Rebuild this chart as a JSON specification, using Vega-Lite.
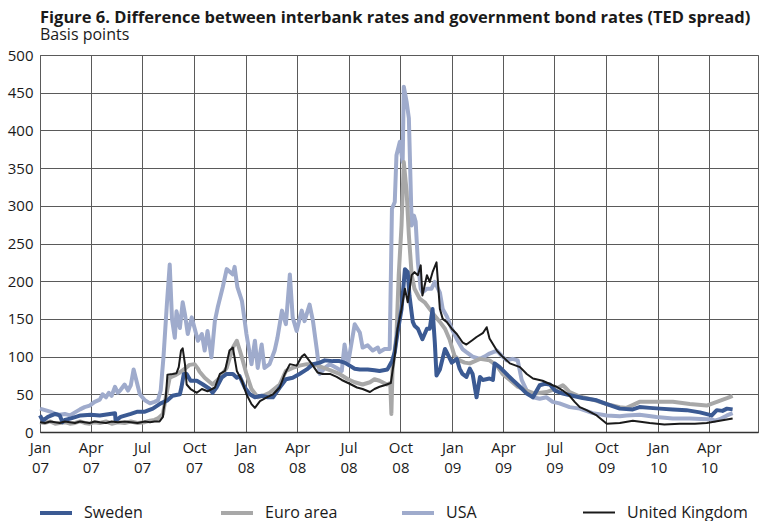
{
  "$schema": "https://vega.github.io/schema/vega-lite/v6.json",
  "width": 718,
  "height": 377,
  "autosize": {"type": "none"},
  "padding": {"left": 40, "top": 55, "right": 2, "bottom": 89},
  "background": "white",
  "config": {
    "font": "Open Sans",
    "view": {"stroke": "#5a5a5a", "strokeWidth": 1},
    "legend": {
      "orient": "none",
      "legendX": -2,
      "legendY": 440,
      "direction": "horizontal",
      "columns": 4,
      "gridAlign": "all",
      "columnPadding": 8,
      "padding": 0,
      "symbolType": "stroke",
      "symbolSize": 1024,
      "labelFontSize": 16,
      "labelOffset": 10,
      "labelColor": "#1a1a1a",
      "labelFont": "Open Sans"
    }
  },
  "title": {
    "text": "Figure 6. Difference between interbank rates and government bond rates (TED spread)",
    "subtitle": "Basis points",
    "anchor": "start",
    "frame": "group",
    "offset": 5,
    "font": "Open Sans",
    "fontSize": 16.5,
    "fontWeight": "bold",
    "color": "#1a1a1a",
    "subtitleFont": "Open Sans",
    "subtitleFontSize": 16,
    "subtitleColor": "#1a1a1a",
    "subtitlePadding": 1
  },
  "datasets": {
    "ted": [
      {"date": "2007-01-01", "series": "USA", "bp": 31},
      {"date": "2007-01-10", "series": "USA", "bp": 29},
      {"date": "2007-01-19", "series": "USA", "bp": 27},
      {"date": "2007-01-28", "series": "USA", "bp": 24},
      {"date": "2007-02-05", "series": "USA", "bp": 23},
      {"date": "2007-02-14", "series": "USA", "bp": 24},
      {"date": "2007-02-23", "series": "USA", "bp": 22},
      {"date": "2007-03-04", "series": "USA", "bp": 26},
      {"date": "2007-03-13", "series": "USA", "bp": 30},
      {"date": "2007-03-21", "series": "USA", "bp": 33},
      {"date": "2007-03-30", "series": "USA", "bp": 35},
      {"date": "2007-04-08", "series": "USA", "bp": 40},
      {"date": "2007-04-17", "series": "USA", "bp": 43},
      {"date": "2007-04-22", "series": "USA", "bp": 50},
      {"date": "2007-04-28", "series": "USA", "bp": 46},
      {"date": "2007-05-03", "series": "USA", "bp": 52},
      {"date": "2007-05-08", "series": "USA", "bp": 48},
      {"date": "2007-05-14", "series": "USA", "bp": 60},
      {"date": "2007-05-19", "series": "USA", "bp": 52},
      {"date": "2007-05-24", "series": "USA", "bp": 56},
      {"date": "2007-05-31", "series": "USA", "bp": 63},
      {"date": "2007-06-06", "series": "USA", "bp": 55},
      {"date": "2007-06-11", "series": "USA", "bp": 62},
      {"date": "2007-06-16", "series": "USA", "bp": 83},
      {"date": "2007-06-22", "series": "USA", "bp": 65},
      {"date": "2007-06-27", "series": "USA", "bp": 50},
      {"date": "2007-07-06", "series": "USA", "bp": 42},
      {"date": "2007-07-15", "series": "USA", "bp": 38},
      {"date": "2007-07-23", "series": "USA", "bp": 40},
      {"date": "2007-07-29", "series": "USA", "bp": 42},
      {"date": "2007-08-03", "series": "USA", "bp": 55},
      {"date": "2007-08-08", "series": "USA", "bp": 100},
      {"date": "2007-08-14", "series": "USA", "bp": 170},
      {"date": "2007-08-19", "series": "USA", "bp": 222},
      {"date": "2007-08-23", "series": "USA", "bp": 150},
      {"date": "2007-08-28", "series": "USA", "bp": 125},
      {"date": "2007-08-31", "series": "USA", "bp": 160},
      {"date": "2007-09-06", "series": "USA", "bp": 138},
      {"date": "2007-09-11", "series": "USA", "bp": 172},
      {"date": "2007-09-15", "series": "USA", "bp": 156},
      {"date": "2007-09-20", "series": "USA", "bp": 130},
      {"date": "2007-09-27", "series": "USA", "bp": 152},
      {"date": "2007-10-02", "series": "USA", "bp": 138},
      {"date": "2007-10-08", "series": "USA", "bp": 121},
      {"date": "2007-10-15", "series": "USA", "bp": 130},
      {"date": "2007-10-20", "series": "USA", "bp": 108},
      {"date": "2007-10-25", "series": "USA", "bp": 134},
      {"date": "2007-11-01", "series": "USA", "bp": 99},
      {"date": "2007-11-07", "series": "USA", "bp": 147},
      {"date": "2007-11-12", "series": "USA", "bp": 165},
      {"date": "2007-11-21", "series": "USA", "bp": 192},
      {"date": "2007-11-28", "series": "USA", "bp": 216},
      {"date": "2007-12-09", "series": "USA", "bp": 209},
      {"date": "2007-12-12", "series": "USA", "bp": 219},
      {"date": "2007-12-17", "series": "USA", "bp": 192},
      {"date": "2007-12-25", "series": "USA", "bp": 174},
      {"date": "2007-12-30", "series": "USA", "bp": 147},
      {"date": "2008-01-02", "series": "USA", "bp": 130},
      {"date": "2008-01-11", "series": "USA", "bp": 90},
      {"date": "2008-01-17", "series": "USA", "bp": 121},
      {"date": "2008-01-22", "series": "USA", "bp": 85},
      {"date": "2008-01-29", "series": "USA", "bp": 116},
      {"date": "2008-02-03", "series": "USA", "bp": 85},
      {"date": "2008-02-12", "series": "USA", "bp": 90},
      {"date": "2008-02-21", "series": "USA", "bp": 108},
      {"date": "2008-02-26", "series": "USA", "bp": 125},
      {"date": "2008-03-05", "series": "USA", "bp": 161},
      {"date": "2008-03-12", "series": "USA", "bp": 143},
      {"date": "2008-03-19", "series": "USA", "bp": 209},
      {"date": "2008-03-24", "series": "USA", "bp": 152},
      {"date": "2008-03-31", "series": "USA", "bp": 134},
      {"date": "2008-04-09", "series": "USA", "bp": 161},
      {"date": "2008-04-14", "series": "USA", "bp": 147},
      {"date": "2008-04-23", "series": "USA", "bp": 169},
      {"date": "2008-04-29", "series": "USA", "bp": 147},
      {"date": "2008-05-06", "series": "USA", "bp": 108},
      {"date": "2008-05-11", "series": "USA", "bp": 77},
      {"date": "2008-05-20", "series": "USA", "bp": 85},
      {"date": "2008-05-29", "series": "USA", "bp": 90},
      {"date": "2008-06-10", "series": "USA", "bp": 85},
      {"date": "2008-06-19", "series": "USA", "bp": 81},
      {"date": "2008-06-24", "series": "USA", "bp": 116},
      {"date": "2008-06-30", "series": "USA", "bp": 90},
      {"date": "2008-07-07", "series": "USA", "bp": 121},
      {"date": "2008-07-12", "series": "USA", "bp": 143},
      {"date": "2008-07-21", "series": "USA", "bp": 132},
      {"date": "2008-07-26", "series": "USA", "bp": 112},
      {"date": "2008-08-04", "series": "USA", "bp": 115},
      {"date": "2008-08-13", "series": "USA", "bp": 108},
      {"date": "2008-08-22", "series": "USA", "bp": 112},
      {"date": "2008-08-25", "series": "USA", "bp": 106},
      {"date": "2008-09-03", "series": "USA", "bp": 110},
      {"date": "2008-09-12", "series": "USA", "bp": 110},
      {"date": "2008-09-16", "series": "USA", "bp": 296},
      {"date": "2008-09-21", "series": "USA", "bp": 305},
      {"date": "2008-09-24", "series": "USA", "bp": 367},
      {"date": "2008-09-30", "series": "USA", "bp": 385},
      {"date": "2008-10-05", "series": "USA", "bp": 358},
      {"date": "2008-10-07", "series": "USA", "bp": 458},
      {"date": "2008-10-12", "series": "USA", "bp": 438},
      {"date": "2008-10-16", "series": "USA", "bp": 416},
      {"date": "2008-10-21", "series": "USA", "bp": 274},
      {"date": "2008-10-25", "series": "USA", "bp": 287},
      {"date": "2008-10-28", "series": "USA", "bp": 279},
      {"date": "2008-11-01", "series": "USA", "bp": 225},
      {"date": "2008-11-06", "series": "USA", "bp": 190},
      {"date": "2008-11-09", "series": "USA", "bp": 185},
      {"date": "2008-11-17", "series": "USA", "bp": 190},
      {"date": "2008-11-25", "series": "USA", "bp": 190},
      {"date": "2008-12-01", "series": "USA", "bp": 199},
      {"date": "2008-12-10", "series": "USA", "bp": 185},
      {"date": "2008-12-15", "series": "USA", "bp": 163},
      {"date": "2008-12-22", "series": "USA", "bp": 154},
      {"date": "2008-12-31", "series": "USA", "bp": 137},
      {"date": "2009-01-09", "series": "USA", "bp": 123},
      {"date": "2009-01-19", "series": "USA", "bp": 110},
      {"date": "2009-01-26", "series": "USA", "bp": 106},
      {"date": "2009-02-06", "series": "USA", "bp": 100},
      {"date": "2009-02-19", "series": "USA", "bp": 97},
      {"date": "2009-02-27", "series": "USA", "bp": 100},
      {"date": "2009-03-08", "series": "USA", "bp": 104},
      {"date": "2009-03-21", "series": "USA", "bp": 108},
      {"date": "2009-03-31", "series": "USA", "bp": 100},
      {"date": "2009-04-07", "series": "USA", "bp": 95},
      {"date": "2009-04-18", "series": "USA", "bp": 97},
      {"date": "2009-04-27", "series": "USA", "bp": 95},
      {"date": "2009-05-04", "series": "USA", "bp": 69},
      {"date": "2009-05-13", "series": "USA", "bp": 55},
      {"date": "2009-05-24", "series": "USA", "bp": 46},
      {"date": "2009-06-05", "series": "USA", "bp": 44},
      {"date": "2009-06-17", "series": "USA", "bp": 46},
      {"date": "2009-06-28", "series": "USA", "bp": 40},
      {"date": "2009-07-10", "series": "USA", "bp": 38},
      {"date": "2009-07-28", "series": "USA", "bp": 33},
      {"date": "2009-08-15", "series": "USA", "bp": 31},
      {"date": "2009-09-07", "series": "USA", "bp": 25},
      {"date": "2009-10-02", "series": "USA", "bp": 22},
      {"date": "2009-10-25", "series": "USA", "bp": 21},
      {"date": "2009-11-06", "series": "USA", "bp": 22},
      {"date": "2009-11-29", "series": "USA", "bp": 23},
      {"date": "2009-12-29", "series": "USA", "bp": 20},
      {"date": "2010-01-27", "series": "USA", "bp": 18},
      {"date": "2010-02-26", "series": "USA", "bp": 18},
      {"date": "2010-03-28", "series": "USA", "bp": 17},
      {"date": "2010-04-06", "series": "USA", "bp": 17},
      {"date": "2010-04-11", "series": "USA", "bp": 15},
      {"date": "2010-04-20", "series": "USA", "bp": 17},
      {"date": "2010-05-03", "series": "USA", "bp": 22},
      {"date": "2010-05-13", "series": "USA", "bp": 25},

      {"date": "2007-01-01", "series": "Euro area", "bp": 13},
      {"date": "2007-01-10", "series": "Euro area", "bp": 12},
      {"date": "2007-01-19", "series": "Euro area", "bp": 14},
      {"date": "2007-01-28", "series": "Euro area", "bp": 11},
      {"date": "2007-02-05", "series": "Euro area", "bp": 12},
      {"date": "2007-02-14", "series": "Euro area", "bp": 13},
      {"date": "2007-02-23", "series": "Euro area", "bp": 11},
      {"date": "2007-03-04", "series": "Euro area", "bp": 12},
      {"date": "2007-03-13", "series": "Euro area", "bp": 14},
      {"date": "2007-03-21", "series": "Euro area", "bp": 12},
      {"date": "2007-03-30", "series": "Euro area", "bp": 11},
      {"date": "2007-04-08", "series": "Euro area", "bp": 13},
      {"date": "2007-04-17", "series": "Euro area", "bp": 12},
      {"date": "2007-04-28", "series": "Euro area", "bp": 14},
      {"date": "2007-05-08", "series": "Euro area", "bp": 11},
      {"date": "2007-05-19", "series": "Euro area", "bp": 13},
      {"date": "2007-05-31", "series": "Euro area", "bp": 12},
      {"date": "2007-06-11", "series": "Euro area", "bp": 14},
      {"date": "2007-06-23", "series": "Euro area", "bp": 12},
      {"date": "2007-07-06", "series": "Euro area", "bp": 13},
      {"date": "2007-07-15", "series": "Euro area", "bp": 15},
      {"date": "2007-07-23", "series": "Euro area", "bp": 16},
      {"date": "2007-07-29", "series": "Euro area", "bp": 18},
      {"date": "2007-08-07", "series": "Euro area", "bp": 24},
      {"date": "2007-08-12", "series": "Euro area", "bp": 46},
      {"date": "2007-08-19", "series": "Euro area", "bp": 72},
      {"date": "2007-08-28", "series": "Euro area", "bp": 75},
      {"date": "2007-09-06", "series": "Euro area", "bp": 79},
      {"date": "2007-09-15", "series": "Euro area", "bp": 84},
      {"date": "2007-09-23", "series": "Euro area", "bp": 89},
      {"date": "2007-10-02", "series": "Euro area", "bp": 90},
      {"date": "2007-10-08", "series": "Euro area", "bp": 84},
      {"date": "2007-10-11", "series": "Euro area", "bp": 80},
      {"date": "2007-10-20", "series": "Euro area", "bp": 72},
      {"date": "2007-11-03", "series": "Euro area", "bp": 63},
      {"date": "2007-11-16", "series": "Euro area", "bp": 72},
      {"date": "2007-11-28", "series": "Euro area", "bp": 85},
      {"date": "2007-12-09", "series": "Euro area", "bp": 112},
      {"date": "2007-12-16", "series": "Euro area", "bp": 121},
      {"date": "2007-12-25", "series": "Euro area", "bp": 99},
      {"date": "2008-01-02", "series": "Euro area", "bp": 77},
      {"date": "2008-01-11", "series": "Euro area", "bp": 57},
      {"date": "2008-01-22", "series": "Euro area", "bp": 46},
      {"date": "2008-01-31", "series": "Euro area", "bp": 48},
      {"date": "2008-02-12", "series": "Euro area", "bp": 52},
      {"date": "2008-03-01", "series": "Euro area", "bp": 63},
      {"date": "2008-03-12", "series": "Euro area", "bp": 81},
      {"date": "2008-03-24", "series": "Euro area", "bp": 85},
      {"date": "2008-04-05", "series": "Euro area", "bp": 88},
      {"date": "2008-04-18", "series": "Euro area", "bp": 90},
      {"date": "2008-04-29", "series": "Euro area", "bp": 90},
      {"date": "2008-05-11", "series": "Euro area", "bp": 87},
      {"date": "2008-05-29", "series": "Euro area", "bp": 82},
      {"date": "2008-06-15", "series": "Euro area", "bp": 77},
      {"date": "2008-06-30", "series": "Euro area", "bp": 70},
      {"date": "2008-07-12", "series": "Euro area", "bp": 66},
      {"date": "2008-07-26", "series": "Euro area", "bp": 63},
      {"date": "2008-08-08", "series": "Euro area", "bp": 66},
      {"date": "2008-08-16", "series": "Euro area", "bp": 70},
      {"date": "2008-08-25", "series": "Euro area", "bp": 68},
      {"date": "2008-09-07", "series": "Euro area", "bp": 63},
      {"date": "2008-09-13", "series": "Euro area", "bp": 65},
      {"date": "2008-09-15", "series": "Euro area", "bp": 24},
      {"date": "2008-09-17", "series": "Euro area", "bp": 83},
      {"date": "2008-09-24", "series": "Euro area", "bp": 128},
      {"date": "2008-09-28", "series": "Euro area", "bp": 208},
      {"date": "2008-10-03", "series": "Euro area", "bp": 274},
      {"date": "2008-10-07", "series": "Euro area", "bp": 358},
      {"date": "2008-10-12", "series": "Euro area", "bp": 319},
      {"date": "2008-10-16", "series": "Euro area", "bp": 261},
      {"date": "2008-10-21", "series": "Euro area", "bp": 208},
      {"date": "2008-10-26", "series": "Euro area", "bp": 190},
      {"date": "2008-11-04", "series": "Euro area", "bp": 177},
      {"date": "2008-11-13", "series": "Euro area", "bp": 172},
      {"date": "2008-11-22", "series": "Euro area", "bp": 163},
      {"date": "2008-12-01", "series": "Euro area", "bp": 154},
      {"date": "2008-12-10", "series": "Euro area", "bp": 146},
      {"date": "2008-12-19", "series": "Euro area", "bp": 137},
      {"date": "2008-12-27", "series": "Euro area", "bp": 123},
      {"date": "2009-01-05", "series": "Euro area", "bp": 101},
      {"date": "2009-01-14", "series": "Euro area", "bp": 95},
      {"date": "2009-01-23", "series": "Euro area", "bp": 92},
      {"date": "2009-02-01", "series": "Euro area", "bp": 91},
      {"date": "2009-02-19", "series": "Euro area", "bp": 97},
      {"date": "2009-03-08", "series": "Euro area", "bp": 95},
      {"date": "2009-03-21", "series": "Euro area", "bp": 88},
      {"date": "2009-03-31", "series": "Euro area", "bp": 77},
      {"date": "2009-04-13", "series": "Euro area", "bp": 69},
      {"date": "2009-04-27", "series": "Euro area", "bp": 60},
      {"date": "2009-05-13", "series": "Euro area", "bp": 55},
      {"date": "2009-05-27", "series": "Euro area", "bp": 51},
      {"date": "2009-06-17", "series": "Euro area", "bp": 53},
      {"date": "2009-07-05", "series": "Euro area", "bp": 58},
      {"date": "2009-07-16", "series": "Euro area", "bp": 62},
      {"date": "2009-07-19", "series": "Euro area", "bp": 60},
      {"date": "2009-07-28", "series": "Euro area", "bp": 53},
      {"date": "2009-08-15", "series": "Euro area", "bp": 47},
      {"date": "2009-09-07", "series": "Euro area", "bp": 43},
      {"date": "2009-10-02", "series": "Euro area", "bp": 37},
      {"date": "2009-10-25", "series": "Euro area", "bp": 33},
      {"date": "2009-11-06", "series": "Euro area", "bp": 32},
      {"date": "2009-11-29", "series": "Euro area", "bp": 40},
      {"date": "2009-12-29", "series": "Euro area", "bp": 40},
      {"date": "2010-01-27", "series": "Euro area", "bp": 40},
      {"date": "2010-02-26", "series": "Euro area", "bp": 37},
      {"date": "2010-03-28", "series": "Euro area", "bp": 35},
      {"date": "2010-04-15", "series": "Euro area", "bp": 40},
      {"date": "2010-05-03", "series": "Euro area", "bp": 45},
      {"date": "2010-05-13", "series": "Euro area", "bp": 48},

      {"date": "2007-01-01", "series": "Sweden", "bp": 22},
      {"date": "2007-01-06", "series": "Sweden", "bp": 15},
      {"date": "2007-01-15", "series": "Sweden", "bp": 20},
      {"date": "2007-01-28", "series": "Sweden", "bp": 24},
      {"date": "2007-02-05", "series": "Sweden", "bp": 22},
      {"date": "2007-02-10", "series": "Sweden", "bp": 13},
      {"date": "2007-02-14", "series": "Sweden", "bp": 16},
      {"date": "2007-02-25", "series": "Sweden", "bp": 18},
      {"date": "2007-03-14", "series": "Sweden", "bp": 22},
      {"date": "2007-04-01", "series": "Sweden", "bp": 23},
      {"date": "2007-04-17", "series": "Sweden", "bp": 22},
      {"date": "2007-05-05", "series": "Sweden", "bp": 24},
      {"date": "2007-05-14", "series": "Sweden", "bp": 25},
      {"date": "2007-05-15", "series": "Sweden", "bp": 15},
      {"date": "2007-05-24", "series": "Sweden", "bp": 20},
      {"date": "2007-06-11", "series": "Sweden", "bp": 24},
      {"date": "2007-06-23", "series": "Sweden", "bp": 27},
      {"date": "2007-07-06", "series": "Sweden", "bp": 27},
      {"date": "2007-07-20", "series": "Sweden", "bp": 31},
      {"date": "2007-08-03", "series": "Sweden", "bp": 38},
      {"date": "2007-08-15", "series": "Sweden", "bp": 42},
      {"date": "2007-08-24", "series": "Sweden", "bp": 48},
      {"date": "2007-09-06", "series": "Sweden", "bp": 50},
      {"date": "2007-09-09", "series": "Sweden", "bp": 60},
      {"date": "2007-09-13", "series": "Sweden", "bp": 77},
      {"date": "2007-09-18", "series": "Sweden", "bp": 77},
      {"date": "2007-09-25", "series": "Sweden", "bp": 68},
      {"date": "2007-10-06", "series": "Sweden", "bp": 68},
      {"date": "2007-10-17", "series": "Sweden", "bp": 63},
      {"date": "2007-10-29", "series": "Sweden", "bp": 57},
      {"date": "2007-11-03", "series": "Sweden", "bp": 52},
      {"date": "2007-11-10", "series": "Sweden", "bp": 59},
      {"date": "2007-11-19", "series": "Sweden", "bp": 72},
      {"date": "2007-11-28", "series": "Sweden", "bp": 77},
      {"date": "2007-12-09", "series": "Sweden", "bp": 77},
      {"date": "2007-12-16", "series": "Sweden", "bp": 72},
      {"date": "2007-12-21", "series": "Sweden", "bp": 74},
      {"date": "2007-12-30", "series": "Sweden", "bp": 59},
      {"date": "2008-01-08", "series": "Sweden", "bp": 50},
      {"date": "2008-01-17", "series": "Sweden", "bp": 46},
      {"date": "2008-01-29", "series": "Sweden", "bp": 48},
      {"date": "2008-02-09", "series": "Sweden", "bp": 46},
      {"date": "2008-02-18", "series": "Sweden", "bp": 46},
      {"date": "2008-03-01", "series": "Sweden", "bp": 59},
      {"date": "2008-03-12", "series": "Sweden", "bp": 70},
      {"date": "2008-03-24", "series": "Sweden", "bp": 72},
      {"date": "2008-04-05", "series": "Sweden", "bp": 77},
      {"date": "2008-04-18", "series": "Sweden", "bp": 83},
      {"date": "2008-04-29", "series": "Sweden", "bp": 90},
      {"date": "2008-05-11", "series": "Sweden", "bp": 92},
      {"date": "2008-05-20", "series": "Sweden", "bp": 95},
      {"date": "2008-06-03", "series": "Sweden", "bp": 94},
      {"date": "2008-06-15", "series": "Sweden", "bp": 94},
      {"date": "2008-06-24", "series": "Sweden", "bp": 92},
      {"date": "2008-07-03", "series": "Sweden", "bp": 88},
      {"date": "2008-07-12", "series": "Sweden", "bp": 84},
      {"date": "2008-07-21", "series": "Sweden", "bp": 83},
      {"date": "2008-08-04", "series": "Sweden", "bp": 83},
      {"date": "2008-08-16", "series": "Sweden", "bp": 82},
      {"date": "2008-08-25", "series": "Sweden", "bp": 81},
      {"date": "2008-09-08", "series": "Sweden", "bp": 83},
      {"date": "2008-09-16", "series": "Sweden", "bp": 94},
      {"date": "2008-09-21", "series": "Sweden", "bp": 106},
      {"date": "2008-09-26", "series": "Sweden", "bp": 132},
      {"date": "2008-10-03", "series": "Sweden", "bp": 163},
      {"date": "2008-10-09", "series": "Sweden", "bp": 216},
      {"date": "2008-10-14", "series": "Sweden", "bp": 212},
      {"date": "2008-10-17", "series": "Sweden", "bp": 181},
      {"date": "2008-10-23", "series": "Sweden", "bp": 146},
      {"date": "2008-10-26", "series": "Sweden", "bp": 141},
      {"date": "2008-11-01", "series": "Sweden", "bp": 137},
      {"date": "2008-11-09", "series": "Sweden", "bp": 123},
      {"date": "2008-11-17", "series": "Sweden", "bp": 137},
      {"date": "2008-11-22", "series": "Sweden", "bp": 137},
      {"date": "2008-11-27", "series": "Sweden", "bp": 163},
      {"date": "2008-12-01", "series": "Sweden", "bp": 119},
      {"date": "2008-12-04", "series": "Sweden", "bp": 75},
      {"date": "2008-12-10", "series": "Sweden", "bp": 83},
      {"date": "2008-12-19", "series": "Sweden", "bp": 110},
      {"date": "2008-12-22", "series": "Sweden", "bp": 106},
      {"date": "2008-12-31", "series": "Sweden", "bp": 92},
      {"date": "2009-01-09", "series": "Sweden", "bp": 97},
      {"date": "2009-01-14", "series": "Sweden", "bp": 84},
      {"date": "2009-01-19", "series": "Sweden", "bp": 77},
      {"date": "2009-01-26", "series": "Sweden", "bp": 73},
      {"date": "2009-02-01", "series": "Sweden", "bp": 84},
      {"date": "2009-02-06", "series": "Sweden", "bp": 77},
      {"date": "2009-02-13", "series": "Sweden", "bp": 46},
      {"date": "2009-02-19", "series": "Sweden", "bp": 73},
      {"date": "2009-02-24", "series": "Sweden", "bp": 69},
      {"date": "2009-03-08", "series": "Sweden", "bp": 71},
      {"date": "2009-03-14", "series": "Sweden", "bp": 69},
      {"date": "2009-03-17", "series": "Sweden", "bp": 91},
      {"date": "2009-03-26", "series": "Sweden", "bp": 86},
      {"date": "2009-04-07", "series": "Sweden", "bp": 77},
      {"date": "2009-04-18", "series": "Sweden", "bp": 69},
      {"date": "2009-05-01", "series": "Sweden", "bp": 60},
      {"date": "2009-05-13", "series": "Sweden", "bp": 51},
      {"date": "2009-05-24", "series": "Sweden", "bp": 46},
      {"date": "2009-06-05", "series": "Sweden", "bp": 62},
      {"date": "2009-06-14", "series": "Sweden", "bp": 64},
      {"date": "2009-06-23", "series": "Sweden", "bp": 63},
      {"date": "2009-07-02", "series": "Sweden", "bp": 55},
      {"date": "2009-07-16", "series": "Sweden", "bp": 51},
      {"date": "2009-08-02", "series": "Sweden", "bp": 48},
      {"date": "2009-08-20", "series": "Sweden", "bp": 45},
      {"date": "2009-09-14", "series": "Sweden", "bp": 42},
      {"date": "2009-10-02", "series": "Sweden", "bp": 37},
      {"date": "2009-10-25", "series": "Sweden", "bp": 31},
      {"date": "2009-11-17", "series": "Sweden", "bp": 30},
      {"date": "2009-11-29", "series": "Sweden", "bp": 33},
      {"date": "2009-12-17", "series": "Sweden", "bp": 32},
      {"date": "2010-01-04", "series": "Sweden", "bp": 31},
      {"date": "2010-01-27", "series": "Sweden", "bp": 30},
      {"date": "2010-02-20", "series": "Sweden", "bp": 29},
      {"date": "2010-03-16", "series": "Sweden", "bp": 26},
      {"date": "2010-04-06", "series": "Sweden", "bp": 22},
      {"date": "2010-04-15", "series": "Sweden", "bp": 29},
      {"date": "2010-04-25", "series": "Sweden", "bp": 28},
      {"date": "2010-05-03", "series": "Sweden", "bp": 31},
      {"date": "2010-05-13", "series": "Sweden", "bp": 30},

      {"date": "2007-01-01", "series": "United Kingdom", "bp": 13},
      {"date": "2007-01-10", "series": "United Kingdom", "bp": 12},
      {"date": "2007-01-19", "series": "United Kingdom", "bp": 14},
      {"date": "2007-01-28", "series": "United Kingdom", "bp": 13},
      {"date": "2007-02-05", "series": "United Kingdom", "bp": 12},
      {"date": "2007-02-14", "series": "United Kingdom", "bp": 14},
      {"date": "2007-02-23", "series": "United Kingdom", "bp": 13},
      {"date": "2007-03-04", "series": "United Kingdom", "bp": 12},
      {"date": "2007-03-13", "series": "United Kingdom", "bp": 14},
      {"date": "2007-03-21", "series": "United Kingdom", "bp": 13},
      {"date": "2007-03-30", "series": "United Kingdom", "bp": 12},
      {"date": "2007-04-08", "series": "United Kingdom", "bp": 14},
      {"date": "2007-04-17", "series": "United Kingdom", "bp": 13},
      {"date": "2007-04-28", "series": "United Kingdom", "bp": 12},
      {"date": "2007-05-08", "series": "United Kingdom", "bp": 14},
      {"date": "2007-05-19", "series": "United Kingdom", "bp": 13},
      {"date": "2007-05-31", "series": "United Kingdom", "bp": 14},
      {"date": "2007-06-11", "series": "United Kingdom", "bp": 13},
      {"date": "2007-06-23", "series": "United Kingdom", "bp": 12},
      {"date": "2007-07-06", "series": "United Kingdom", "bp": 14},
      {"date": "2007-07-15", "series": "United Kingdom", "bp": 13},
      {"date": "2007-07-23", "series": "United Kingdom", "bp": 14},
      {"date": "2007-08-01", "series": "United Kingdom", "bp": 14},
      {"date": "2007-08-07", "series": "United Kingdom", "bp": 20},
      {"date": "2007-08-08", "series": "United Kingdom", "bp": 29},
      {"date": "2007-08-12", "series": "United Kingdom", "bp": 46},
      {"date": "2007-08-15", "series": "United Kingdom", "bp": 76},
      {"date": "2007-08-24", "series": "United Kingdom", "bp": 77},
      {"date": "2007-08-31", "series": "United Kingdom", "bp": 78},
      {"date": "2007-09-04", "series": "United Kingdom", "bp": 86},
      {"date": "2007-09-08", "series": "United Kingdom", "bp": 108},
      {"date": "2007-09-11", "series": "United Kingdom", "bp": 111},
      {"date": "2007-09-15", "series": "United Kingdom", "bp": 90},
      {"date": "2007-09-18", "series": "United Kingdom", "bp": 63},
      {"date": "2007-09-25", "series": "United Kingdom", "bp": 57},
      {"date": "2007-10-06", "series": "United Kingdom", "bp": 52},
      {"date": "2007-10-15", "series": "United Kingdom", "bp": 57},
      {"date": "2007-10-25", "series": "United Kingdom", "bp": 54},
      {"date": "2007-11-07", "series": "United Kingdom", "bp": 59},
      {"date": "2007-11-16", "series": "United Kingdom", "bp": 77},
      {"date": "2007-11-25", "series": "United Kingdom", "bp": 81},
      {"date": "2007-12-03", "series": "United Kingdom", "bp": 108},
      {"date": "2007-12-09", "series": "United Kingdom", "bp": 112},
      {"date": "2007-12-16", "series": "United Kingdom", "bp": 81},
      {"date": "2007-12-25", "series": "United Kingdom", "bp": 68},
      {"date": "2008-01-02", "series": "United Kingdom", "bp": 50},
      {"date": "2008-01-11", "series": "United Kingdom", "bp": 37},
      {"date": "2008-01-17", "series": "United Kingdom", "bp": 32},
      {"date": "2008-01-26", "series": "United Kingdom", "bp": 41},
      {"date": "2008-02-07", "series": "United Kingdom", "bp": 46},
      {"date": "2008-02-18", "series": "United Kingdom", "bp": 50},
      {"date": "2008-03-01", "series": "United Kingdom", "bp": 59},
      {"date": "2008-03-10", "series": "United Kingdom", "bp": 77},
      {"date": "2008-03-19", "series": "United Kingdom", "bp": 90},
      {"date": "2008-03-31", "series": "United Kingdom", "bp": 88},
      {"date": "2008-04-09", "series": "United Kingdom", "bp": 100},
      {"date": "2008-04-14", "series": "United Kingdom", "bp": 103},
      {"date": "2008-04-18", "series": "United Kingdom", "bp": 99},
      {"date": "2008-04-27", "series": "United Kingdom", "bp": 90},
      {"date": "2008-05-07", "series": "United Kingdom", "bp": 79},
      {"date": "2008-05-16", "series": "United Kingdom", "bp": 77},
      {"date": "2008-05-29", "series": "United Kingdom", "bp": 77},
      {"date": "2008-06-10", "series": "United Kingdom", "bp": 73},
      {"date": "2008-06-19", "series": "United Kingdom", "bp": 69},
      {"date": "2008-07-03", "series": "United Kingdom", "bp": 64},
      {"date": "2008-07-16", "series": "United Kingdom", "bp": 59},
      {"date": "2008-07-26", "series": "United Kingdom", "bp": 57},
      {"date": "2008-08-08", "series": "United Kingdom", "bp": 53},
      {"date": "2008-08-16", "series": "United Kingdom", "bp": 57},
      {"date": "2008-08-25", "series": "United Kingdom", "bp": 60},
      {"date": "2008-09-03", "series": "United Kingdom", "bp": 62},
      {"date": "2008-09-14", "series": "United Kingdom", "bp": 65},
      {"date": "2008-09-21", "series": "United Kingdom", "bp": 101},
      {"date": "2008-09-26", "series": "United Kingdom", "bp": 137},
      {"date": "2008-10-03", "series": "United Kingdom", "bp": 163},
      {"date": "2008-10-09", "series": "United Kingdom", "bp": 190},
      {"date": "2008-10-14", "series": "United Kingdom", "bp": 172},
      {"date": "2008-10-21", "series": "United Kingdom", "bp": 208},
      {"date": "2008-10-26", "series": "United Kingdom", "bp": 212},
      {"date": "2008-11-01", "series": "United Kingdom", "bp": 208},
      {"date": "2008-11-06", "series": "United Kingdom", "bp": 221},
      {"date": "2008-11-09", "series": "United Kingdom", "bp": 181},
      {"date": "2008-11-17", "series": "United Kingdom", "bp": 208},
      {"date": "2008-11-22", "series": "United Kingdom", "bp": 199},
      {"date": "2008-11-27", "series": "United Kingdom", "bp": 212},
      {"date": "2008-12-04", "series": "United Kingdom", "bp": 225},
      {"date": "2008-12-10", "series": "United Kingdom", "bp": 163},
      {"date": "2008-12-15", "series": "United Kingdom", "bp": 150},
      {"date": "2008-12-22", "series": "United Kingdom", "bp": 146},
      {"date": "2008-12-31", "series": "United Kingdom", "bp": 137},
      {"date": "2009-01-09", "series": "United Kingdom", "bp": 130},
      {"date": "2009-01-19", "series": "United Kingdom", "bp": 119},
      {"date": "2009-01-26", "series": "United Kingdom", "bp": 116},
      {"date": "2009-02-06", "series": "United Kingdom", "bp": 122},
      {"date": "2009-02-13", "series": "United Kingdom", "bp": 126},
      {"date": "2009-02-24", "series": "United Kingdom", "bp": 131},
      {"date": "2009-03-03", "series": "United Kingdom", "bp": 139},
      {"date": "2009-03-08", "series": "United Kingdom", "bp": 124},
      {"date": "2009-03-21", "series": "United Kingdom", "bp": 108},
      {"date": "2009-03-31", "series": "United Kingdom", "bp": 100},
      {"date": "2009-04-13", "series": "United Kingdom", "bp": 91},
      {"date": "2009-05-01", "series": "United Kingdom", "bp": 86},
      {"date": "2009-05-13", "series": "United Kingdom", "bp": 77},
      {"date": "2009-05-24", "series": "United Kingdom", "bp": 71},
      {"date": "2009-06-10", "series": "United Kingdom", "bp": 68},
      {"date": "2009-06-28", "series": "United Kingdom", "bp": 62},
      {"date": "2009-07-05", "series": "United Kingdom", "bp": 60},
      {"date": "2009-07-16", "series": "United Kingdom", "bp": 55},
      {"date": "2009-07-28", "series": "United Kingdom", "bp": 48},
      {"date": "2009-08-06", "series": "United Kingdom", "bp": 40},
      {"date": "2009-08-15", "series": "United Kingdom", "bp": 33},
      {"date": "2009-08-27", "series": "United Kingdom", "bp": 29},
      {"date": "2009-09-14", "series": "United Kingdom", "bp": 22},
      {"date": "2009-10-02", "series": "United Kingdom", "bp": 11},
      {"date": "2009-10-25", "series": "United Kingdom", "bp": 12},
      {"date": "2009-11-17", "series": "United Kingdom", "bp": 15},
      {"date": "2009-12-17", "series": "United Kingdom", "bp": 12},
      {"date": "2010-01-12", "series": "United Kingdom", "bp": 10},
      {"date": "2010-02-08", "series": "United Kingdom", "bp": 11},
      {"date": "2010-03-07", "series": "United Kingdom", "bp": 11},
      {"date": "2010-03-28", "series": "United Kingdom", "bp": 12},
      {"date": "2010-04-20", "series": "United Kingdom", "bp": 15},
      {"date": "2010-05-13", "series": "United Kingdom", "bp": 18}
    ]
  },
  "data": {"name": "ted"},
  "encoding": {
    "x": {
      "field": "date",
      "type": "temporal",
      "title": null,
      "scale": {
        "type": "utc",
        "domain": [
          {"year": 2007, "month": 1, "date": 1, "utc": true},
          {"year": 2010, "month": 6, "date": 27, "utc": true}
        ]
      },
      "axis": {
        "values": [
          {"year": 2007, "month": 1, "date": 1, "utc": true},
          {"year": 2007, "month": 4, "date": 1, "utc": true},
          {"year": 2007, "month": 7, "date": 1, "utc": true},
          {"year": 2007, "month": 10, "date": 1, "utc": true},
          {"year": 2008, "month": 1, "date": 1, "utc": true},
          {"year": 2008, "month": 4, "date": 1, "utc": true},
          {"year": 2008, "month": 7, "date": 1, "utc": true},
          {"year": 2008, "month": 10, "date": 1, "utc": true},
          {"year": 2009, "month": 1, "date": 1, "utc": true},
          {"year": 2009, "month": 4, "date": 1, "utc": true},
          {"year": 2009, "month": 7, "date": 1, "utc": true},
          {"year": 2009, "month": 10, "date": 1, "utc": true},
          {"year": 2010, "month": 1, "date": 1, "utc": true},
          {"year": 2010, "month": 4, "date": 1, "utc": true}
        ],
        "labelExpr": "[utcFormat(datum.value, '%b'), utcFormat(datum.value, '%y')]",
        "grid": true,
        "gridColor": "#5a5a5a",
        "gridWidth": 1,
        "gridOpacity": 1,
        "ticks": false,
        "domainColor": "#333333",
        "domainWidth": 1.5,
        "labelAlign": "center",
        "labelBaseline": "top",
        "labelFont": "Open Sans",
        "labelFontSize": 15,
        "labelColor": "#1a1a1a",
        "labelPadding": 8,
        "labelLineHeight": 20,
        "labelOverlap": false,
        "labelFlush": false
      }
    },
    "y": {
      "field": "bp",
      "type": "quantitative",
      "title": null,
      "scale": {"domain": [0, 500], "nice": false},
      "axis": {
        "values": [0, 50, 100, 150, 200, 250, 300, 350, 400, 450, 500],
        "grid": true,
        "gridColor": "#5a5a5a",
        "gridWidth": 1,
        "gridOpacity": 1,
        "ticks": false,
        "domain": false,
        "labelFont": "Open Sans",
        "labelFontSize": 15,
        "labelColor": "#1a1a1a",
        "labelPadding": 7
      }
    },
    "color": {
      "field": "series",
      "type": "nominal",
      "title": null,
      "scale": {
        "domain": ["Sweden", "Euro area", "USA", "United Kingdom"],
        "range": ["#3b5a93", "#a8a8a8", "#9fabcc", "#1a1a1a"]
      }
    },
    "strokeWidth": {
      "field": "series",
      "type": "nominal",
      "title": null,
      "scale": {
        "type": "ordinal",
        "domain": ["Sweden", "Euro area", "USA", "United Kingdom"],
        "range": [4, 4, 4, 2]
      }
    }
  },
  "layer": [
    {"transform": [{"filter": "datum.series === 'USA'"}], "mark": {"type": "line", "strokeJoin": "round"}},
    {"transform": [{"filter": "datum.series === 'Euro area'"}], "mark": {"type": "line", "strokeJoin": "round"}},
    {"transform": [{"filter": "datum.series === 'Sweden'"}], "mark": {"type": "line", "strokeJoin": "round"}},
    {"transform": [{"filter": "datum.series === 'United Kingdom'"}], "mark": {"type": "line", "strokeJoin": "round"}}
  ]
}
